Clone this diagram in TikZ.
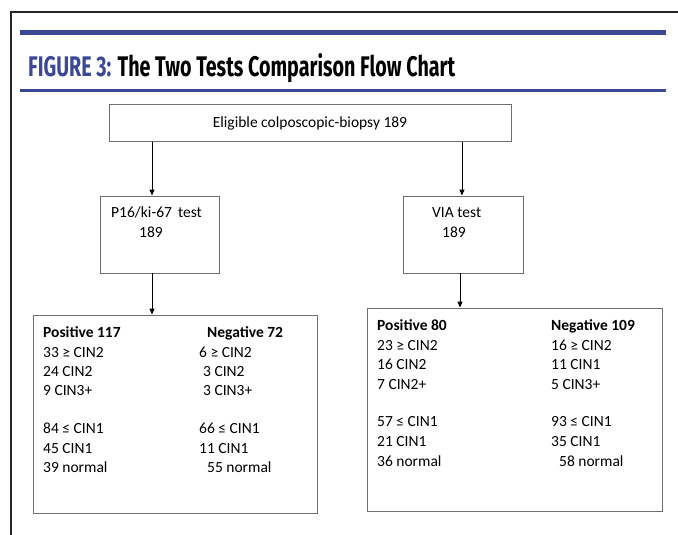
\documentclass[tikz,border=0pt]{standalone}
\usepackage{fontspec}
\setmainfont{Carlito}
\newfontfamily\titlefont{Fira Sans}
\usetikzlibrary{arrows.meta}
\definecolor{figblue}{RGB}{58,72,150}
\definecolor{boxgray}{RGB}{110,110,110}
\tikzset{
  box/.style={draw=boxgray, line width=0.9pt},
  arr/.style={-{Triangle[length=6pt,width=5pt]}, line width=1pt, black},
  txt/.style={anchor=base west, inner sep=0pt, font=\fontsize{15.5}{18}\selectfont},
  btxt/.style={txt, font=\fontsize{15.5}{18}\selectfont\bfseries},
}
\begin{document}
\begin{tikzpicture}[x=1pt,y=-1pt]
\useasboundingbox (0,0) rectangle (678,535);
\fill[white] (0,0) rectangle (678,535);
% outer frame
\draw[line width=2pt, black!85] (678,12.5) -- (11,12.5) -- (11,535);
% blue rules
\fill[figblue] (20,30) rectangle (666,35);
\fill[figblue] (20,89) rectangle (666,92);
% title
\node[anchor=base west, inner sep=0pt] (title) at (28,77)
  {\resizebox{427pt}{23pt}{\titlefont\bfseries\textcolor{figblue}{FIGURE 3:} The Two Tests Comparison Flow Chart}};
% boxes
\node[box, minimum width=402pt, minimum height=37pt, inner sep=0pt] (top) at (310,123)
  {\fontsize{15.5}{18}\selectfont Eligible colposcopic-biopsy 189};
\node[box, minimum width=119pt, minimum height=77pt, inner sep=0pt] (p16) at (160,234.5) {};
\node[txt] (p16a) at (111,217) {P16/ki-67\, test};
\node[txt] (p16b) at (139,237) {189};
\node[box, minimum width=120pt, minimum height=77pt, inner sep=0pt] (via) at (463,234.5) {};
\node[txt] (viaa) at (432,217) {VIA test};
\node[txt] (viab) at (442,237) {189};
\node[box, minimum width=284pt, minimum height=198pt, inner sep=0pt] (lres) at (175,414) {};
\node[box, minimum width=295pt, minimum height=203pt, inner sep=0pt] (rres) at (514.5,409.5) {};
% arrows
\coordinate (tl) at (152,141.5);
\coordinate (tr) at (462,141.5);
\draw[arr] (tl) -- (tl |- p16.north);
\draw[arr] (tr) -- (tr |- via.north);
\draw[arr] (p16.south -| tl) -- (tl |- lres.north);
\draw[arr] (via.south -| 460,0) -- (460,0 |- rres.north);
% left results
\node[btxt] (l1) at (43,337) {Positive 117};
\node[txt] (l2) at (43,357) {33 ≥ CIN2};
\node[txt] (l3) at (43,376) {24 CIN2};
\node[txt] (l4) at (43,395) {9 CIN3+};
\node[txt] (l5) at (43,433) {84 ≤ CIN1};
\node[txt] (l6) at (43,453) {45 CIN1};
\node[txt] (l7) at (43,472) {39 normal};
\node[btxt] (m1) at (207,337) {Negative 72};
\node[txt] (m2) at (199,357) {6 ≥ CIN2};
\node[txt] (m3) at (203,376) {3 CIN2};
\node[txt] (m4) at (203,395) {3 CIN3+};
\node[txt] (m5) at (199,433) {66 ≤ CIN1};
\node[txt] (m6) at (199,453) {11 CIN1};
\node[txt] (m7) at (207,472) {55 normal};
% right results
\node[btxt] (r1) at (377,330) {Positive 80};
\node[txt] (r2) at (377,350) {23 ≥ CIN2};
\node[txt] (r3) at (377,369) {16 CIN2};
\node[txt] (r4) at (377,389) {7 CIN2+};
\node[txt] (r5) at (377,426) {57 ≤ CIN1};
\node[txt] (r6) at (377,446) {21 CIN1};
\node[txt] (r7) at (377,466) {36 normal};
\node[btxt] (s1) at (551,330) {Negative 109};
\node[txt] (s2) at (551,350) {16 ≥ CIN2};
\node[txt] (s3) at (551,369) {11 CIN1};
\node[txt] (s4) at (551,389) {5 CIN3+};
\node[txt] (s5) at (551,426) {93 ≤ CIN1};
\node[txt] (s6) at (551,446) {35 CIN1};
\node[txt] (s7) at (559,466) {58 normal};
\end{tikzpicture}
\end{document}
